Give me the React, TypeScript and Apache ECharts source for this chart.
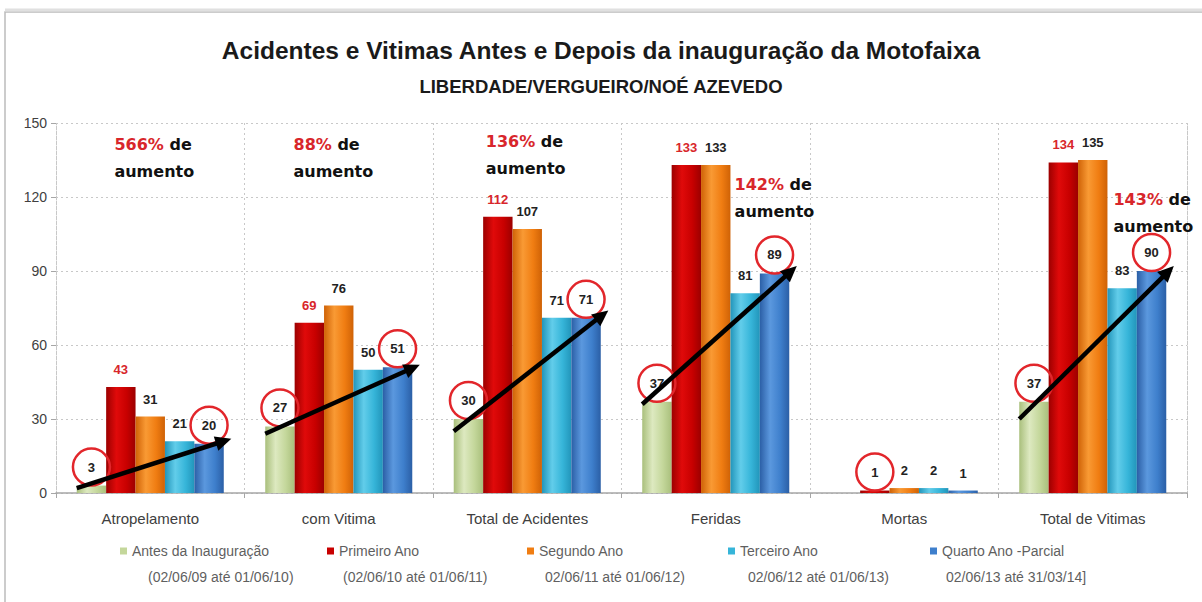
import React, { useEffect, useRef } from 'react';
import * as echarts from 'echarts';

const categories = ['Atropelamento', 'com Vitima', 'Total de Acidentes', 'Feridas', 'Mortas', 'Total de Vitimas'];
const seriesNames = ['Antes da Inauguração', 'Primeiro Ano', 'Segundo Ano', 'Terceiro Ano', 'Quarto Ano -Parcial'];
const periods = ['(02/06/09 até 01/06/10)', '(02/06/10 até 01/06/11)', '02/06/11 até 01/06/12)', '02/06/12 até 01/06/13)', '02/06/13 até 31/03/14]'];
const antes = [3, 27, 30, 37, 0, 37];
const primeiro = [43, 69, 112, 133, 1, 134];
const segundo = [31, 76, 107, 133, 2, 135];
const terceiro = [21, 50, 71, 81, 2, 83];
const quarto = [20, 51, 71, 89, 1, 90];
const yTicks = [0, 30, 60, 90, 120, 150];
// which value labels are circled in red
const circledAntes = [true, true, true, true, false, true];
const circledPrimeiro = [false, false, false, false, true, false];
const circledQuarto = [true, true, true, true, false, true];
// trend arrows (from / to values)
const arrowFrom = [2, 24, 25, 36, null, 30];
const arrowTo = [22, 52, 74, 92, null, 92];
// increase annotations
const increasePct = ['566%', '88%', '136%', '142%', null, '143%'];

// layout (not data)
const annoAnchorValue = [136, 136, 137, 119.5, null, 113.5];
const annoOffset = [-0.19, -0.24, -0.22, 0.1, 0, 0.11];
const legendLeft = [120, 327, 527, 728, 930];
const periodLeft = [148, 343, 545, 748, 946];

const SANS = "'Liberation Sans', Arial, sans-serif";
const WIDE = "'DejaVu Sans', Verdana, sans-serif";

const palette = [
  { base: '#c4d79b', light: '#dde9c0', dark: '#a9bf7c' },
  { base: '#c80000', light: '#e00a0a', dark: '#9c0000' },
  { base: '#f07d12', light: '#f99a34', dark: '#cf6206' },
  { base: '#36b5d9', light: '#62cdea', dark: '#2295ba' },
  { base: '#3e7fcc', light: '#5b98de', dark: '#2b5fa6' },
];

function grad(p: { base: string; light: string; dark: string }) {
  return new echarts.graphic.LinearGradient(0, 0, 1, 0, [
    { offset: 0, color: p.dark },
    { offset: 0.35, color: p.light },
    { offset: 0.7, color: p.base },
    { offset: 1, color: p.dark },
  ]);
}

const circleLabel = {
  show: true,
  position: 'top',
  distance: 0,
  width: 31,
  height: 31,
  lineHeight: 31,
  padding: 3,
  align: 'center',
  borderColor: '#e2262b',
  borderWidth: 2.5,
  borderRadius: 19,
  color: '#222',
  fontSize: 13,
  fontWeight: 'bold',
  fontFamily: SANS,
};

function plainLabel(color: string) {
  return {
    show: true,
    position: 'top',
    distance: 11,
    color,
    fontSize: 13,
    fontWeight: 'bold',
    fontFamily: SANS,
  };
}

function buildData(values: number[], circled: boolean[] | null, color: string) {
  return values.map((v, i) => ({
    value: v,
    label: v === 0 ? { show: false } : circled && circled[i] ? circleLabel : plainLabel(color),
  }));
}

export default function App() {
  const ref = useRef<HTMLDivElement>(null);
  useEffect(() => {
    if (!ref.current) return;
    const chart = echarts.init(ref.current, undefined, { renderer: 'svg' });
    const seriesValues = [antes, primeiro, segundo, terceiro, quarto];
    const circles = [circledAntes, circledPrimeiro, null, null, circledQuarto];
    const labelColors = ['#222', '#d8262b', '#222', '#222', '#222'];

    const barSeries = seriesNames.map((name, s) => ({
      name,
      type: 'bar',
      barGap: '0%',
      barCategoryGap: '22%',
      itemStyle: { color: grad(palette[s]) },
      data: buildData(seriesValues[s], circles[s], labelColors[s]),
      z: 2,
    }));

    const arrowData = categories
      .map((_, i) => (arrowFrom[i] == null ? null : [i, arrowFrom[i], arrowTo[i]]))
      .filter((d) => d !== null);

    const annoData = categories
      .map((_, i) => (increasePct[i] == null ? null : [i, annoAnchorValue[i], annoOffset[i]]))
      .filter((d) => d !== null);

    const nameLegends = seriesNames.map((n, s) => ({
      data: [{ name: n, itemStyle: { color: palette[s].base } }],
      left: legendLeft[s],
      top: 544,
      padding: 0,
      icon: 'rect',
      itemWidth: 7,
      itemHeight: 7,
      selectedMode: false,
      textStyle: { fontFamily: SANS, fontSize: 14, color: '#5f5f5f' },
    }));
    const periodLegends = seriesNames.map((n, s) => ({
      data: [{ name: n, itemStyle: { opacity: 0 } }],
      left: periodLeft[s] - 6,
      top: 570,
      padding: 0,
      icon: 'rect',
      itemWidth: 1,
      itemHeight: 7,
      selectedMode: false,
      formatter: () => periods[s],
      textStyle: { fontFamily: SANS, fontSize: 14, color: '#5f5f5f' },
    }));

    const option = {
      animation: false,
      title: {
        text: 'Acidentes e Vitimas Antes e Depois da inauguração da Motofaixa',
        subtext: 'LIBERDADE/VERGUEIRO/NOÉ AZEVEDO',
        left: 'center',
        top: 33,
        itemGap: 14,
        textStyle: { fontFamily: SANS, fontSize: 24.5, fontWeight: 'bold', color: '#1a1a1a' },
        subtextStyle: { fontFamily: SANS, fontSize: 18.5, fontWeight: 'bold', color: '#1a1a1a' },
      },
      grid: { left: 56, right: 15, top: 123, bottom: 109, containLabel: false },
      legend: [...nameLegends, ...periodLegends],
      xAxis: {
        type: 'category',
        data: categories,
        axisLine: { show: true, lineStyle: { color: '#a6a6a6', width: 1.5 } },
        axisTick: { show: true, length: 5, lineStyle: { color: '#a6a6a6' } },
        axisLabel: { fontFamily: SANS, fontSize: 15, color: '#404040', margin: 18 },
        splitLine: { show: true, lineStyle: { color: '#c8c8c8', type: [2, 3], width: 1 } },
      },
      yAxis: [
        {
          type: 'value',
          min: 0,
          max: yTicks[yTicks.length - 1],
          interval: yTicks[1] - yTicks[0],
          axisLine: { show: true, lineStyle: { color: '#c8c8c8', type: [2, 3] } },
          axisTick: { show: true, length: 5, lineStyle: { color: '#a6a6a6' } },
          axisLabel: { fontFamily: SANS, fontSize: 14, color: '#404040', margin: 9 },
          splitLine: { show: true, lineStyle: { color: '#c8c8c8', type: [2, 3], width: 1 } },
        },
        {
          type: 'value',
          position: 'right',
          min: 0,
          max: yTicks[yTicks.length - 1],
          interval: yTicks[1] - yTicks[0],
          axisLine: { show: true, lineStyle: { color: '#c8c8c8', type: [2, 3] } },
          axisTick: { show: false },
          axisLabel: { show: false },
          splitLine: { show: false },
        },
      ],
      graphic: [
        {
          type: 'rect',
          silent: true,
          shape: { x: 5, y: 12, width: 1300, height: 700 },
          style: { fill: 'none', stroke: '#bcbcbc', lineWidth: 1.5 },
        },
        {
          type: 'line',
          silent: true,
          shape: { x1: 5, y1: 10, x2: 1202, y2: 10 },
          style: { stroke: '#e0e0e0', lineWidth: 3 },
        },
      ],
      series: [
        ...barSeries,
        {
          type: 'custom',
          name: 'arrows',
          z: 6,
          silent: true,
          data: arrowData,
          renderItem: (params: any, api: any) => {
            const i = api.value(0);
            const bw = api.size([1, 0])[0];
            const a = api.coord([i, api.value(1)]);
            const b = api.coord([i, api.value(2)]);
            const x0 = a[0] - 0.39 * bw;
            const y0 = a[1];
            const x1 = b[0] + 0.43 * bw;
            const y1 = b[1];
            const ang = Math.atan2(y1 - y0, x1 - x0);
            const L = 16;
            const W = 7.5;
            const bx = x1 - L * Math.cos(ang);
            const by = y1 - L * Math.sin(ang);
            const px = -Math.sin(ang) * W;
            const py = Math.cos(ang) * W;
            return {
              type: 'group',
              children: [
                { type: 'line', shape: { x1: x0, y1: y0, x2: bx + 2 * Math.cos(ang), y2: by + 2 * Math.sin(ang) }, style: { stroke: '#000', lineWidth: 4.5 } },
                { type: 'polygon', shape: { points: [[x1, y1], [bx + px, by + py], [bx - px, by - py]] }, style: { fill: '#000' } },
              ],
            };
          },
        },
        {
          type: 'custom',
          name: 'annotations',
          z: 7,
          silent: true,
          data: annoData,
          renderItem: (params: any, api: any) => {
            const i = api.value(0);
            const bw = api.size([1, 0])[0];
            const p = api.coord([i, api.value(1)]);
            const off = api.value(2);
            return {
              type: 'text',
              x: p[0] + off * bw,
              y: p[1],
              style: {
                text: '{r|' + increasePct[i] + '}{b| de}\n{b|aumento}',
                textAlign: 'left',
                textVerticalAlign: 'middle',
                align: 'left',
                verticalAlign: 'middle',
                rich: {
                  r: { fontFamily: WIDE, fontSize: 16, fontWeight: 'bold', fill: '#d8262b', color: '#d8262b', lineHeight: 27 },
                  b: { fontFamily: WIDE, fontSize: 16, fontWeight: 'bold', fill: '#111', color: '#111', lineHeight: 27 },
                },
              },
            };
          },
        },
      ],
    };
    chart.setOption(option as any);
    return () => chart.dispose();
  }, []);
  return (
    <div
      ref={ref}
      style={{ position: 'fixed', left: 0, top: 0, width: 1202, height: 602, background: '#fff' }}
    />
  );
}
